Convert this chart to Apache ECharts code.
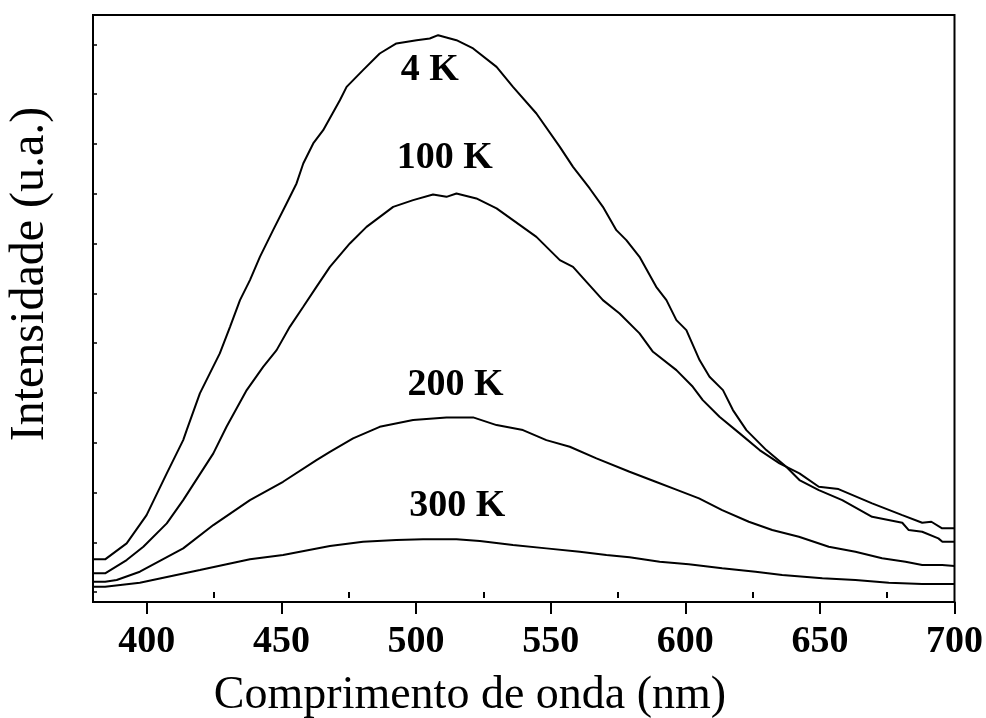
<!DOCTYPE html>
<html>
<head>
<meta charset="utf-8">
<script src="https://cdn.jsdelivr.net/npm/echarts@6/dist/echarts.min.js"></script>
<style>
  html, body { margin: 0; padding: 0; background: #fff; }
  #chart { width: 986px; height: 718px; }
</style>
</head>
<body>
<div id="chart"></div>
<script>
// Photoluminescence spectra at four temperatures: [wavelength (nm), intensity (a.u.)]
const spectrum4K = [
  [380.0, 0.657], [384.5, 0.657], [392.5, 0.978], [399.9, 1.546], [407.4, 2.383],
  [413.5, 3.052], [414.8, 3.253], [419.7, 3.990], [423.4, 4.392], [427.1, 4.793],
  [430.9, 5.327], [434.6, 5.863], [438.3, 6.265], [442.0, 6.733], [446.9, 7.269],
  [451.9, 7.805], [455.6, 8.207], [458.1, 8.608], [461.8, 9.010], [465.5, 9.277],
  [471.7, 9.879], [474.2, 10.146], [480.3, 10.482], [486.5, 10.817], [492.7, 11.018],
  [500.2, 11.084], [505.1, 11.118], [508.2, 11.185], [515.0, 11.084], [521.2, 10.918],
  [529.9, 10.548], [536.0, 10.146], [544.7, 9.612], [553.4, 8.942], [558.3, 8.540],
  [564.5, 8.106], [569.4, 7.737], [574.4, 7.269], [578.1, 7.068], [583.0, 6.733],
  [589.2, 6.130], [593.0, 5.863], [596.7, 5.462], [600.4, 5.261], [605.3, 4.659],
  [609.0, 4.323], [614.0, 4.056], [617.7, 3.655], [622.7, 3.253], [630.1, 2.851],
  [637.5, 2.516], [642.4, 2.249], [649.6, 2.048], [658.3, 1.847], [669.4, 1.512],
  [680.6, 1.392], [683.0, 1.245], [688.0, 1.211], [694.0, 1.078], [695.5, 1.010],
  [700.0, 1.010]
];
const spectrum100K = [
  [380.0, 0.376], [384.5, 0.376], [392.5, 0.643], [398.7, 0.910], [407.4, 1.379],
  [413.5, 1.847], [424.7, 2.785], [429.6, 3.319], [437.1, 4.056], [443.2, 4.524],
  [448.2, 4.859], [453.1, 5.327], [458.1, 5.729], [463.0, 6.130], [468.0, 6.532],
  [475.4, 7.002], [481.6, 7.335], [491.5, 7.737], [498.9, 7.871], [506.3, 7.986],
  [511.3, 7.938], [515.0, 8.006], [522.4, 7.905], [529.9, 7.705], [536.0, 7.470],
  [544.7, 7.134], [553.4, 6.667], [558.3, 6.532], [563.3, 6.231], [569.4, 5.863],
  [575.6, 5.596], [583.0, 5.195], [588.0, 4.825], [596.7, 4.458], [602.8, 4.122],
  [606.5, 3.855], [612.7, 3.520], [620.2, 3.187], [627.6, 2.851], [635.0, 2.584],
  [642.4, 2.383], [649.6, 2.114], [656.9, 2.068], [669.4, 1.781], [680.6, 1.546],
  [688.0, 1.392], [691.4, 1.412], [695.4, 1.279], [700.0, 1.279]
];
const spectrum200K = [
  [380.0, 0.207], [384.5, 0.207], [388.8, 0.241], [397.4, 0.408], [413.5, 0.877],
  [424.7, 1.345], [438.3, 1.847], [450.6, 2.215], [463.0, 2.651], [468.0, 2.817],
  [476.6, 3.086], [486.5, 3.319], [498.9, 3.454], [511.3, 3.508], [521.2, 3.508],
  [529.9, 3.353], [539.7, 3.253], [548.4, 3.052], [557.1, 2.918], [567.0, 2.685],
  [579.3, 2.416], [589.0, 2.215], [596.4, 2.062], [605.1, 1.881], [613.7, 1.647],
  [623.6, 1.412], [632.3, 1.245], [642.2, 1.110], [653.3, 0.910], [663.2, 0.809],
  [673.1, 0.677], [681.8, 0.608], [688.0, 0.542], [695.4, 0.542], [700.0, 0.522]
];
const spectrum300K = [
  [380.0, 0.106], [384.5, 0.106], [397.4, 0.187], [419.7, 0.442], [438.3, 0.657],
  [450.6, 0.743], [468.0, 0.924], [480.3, 1.010], [492.7, 1.044], [502.6, 1.058],
  [515.0, 1.058], [523.7, 1.024], [536.0, 0.944], [548.4, 0.877], [560.8, 0.809],
  [570.7, 0.743], [579.3, 0.697], [590.5, 0.608], [601.3, 0.556], [613.7, 0.476],
  [626.1, 0.408], [636.0, 0.341], [650.9, 0.275], [663.2, 0.241], [675.6, 0.187],
  [688.0, 0.161], [700.0, 0.161]
];

const seriesNames = ['4 K', '100 K', '200 K', '300 K'];
const seriesData = [spectrum4K, spectrum100K, spectrum200K, spectrum300K];

// Where each temperature caption sits, in data coordinates
const captionAnchors = [[505.1, 10.48], [510.7, 8.71], [514.7, 4.16], [515.3, 1.72]];

// Axis ticks
const xMajorTicks = [400, 450, 500, 550, 600, 650, 700];
const xMinorTicks = [425, 475, 525, 575, 625, 675];
const yTicks = [0, 1, 2, 3, 4, 5, 6, 7, 8, 9, 10, 11];

const SERIF = '"Liberation Serif", "Times New Roman", serif';

const chart = echarts.init(document.getElementById('chart'), null, { renderer: 'canvas' });

const series = seriesData.map((data, i) => ({
  name: seriesNames[i],
  type: 'line',
  xAxisIndex: 0,
  yAxisIndex: 0,
  data: data,
  showSymbol: false,
  symbol: 'none',
  silent: true,
  animation: false,
  lineStyle: { color: '#000', width: 2 },
  markPoint: {
    symbol: 'circle',
    symbolSize: 1,
    itemStyle: { color: 'rgba(0,0,0,0)' },
    animation: false,
    data: [{
      coord: captionAnchors[i],
      label: {
        show: true,
        position: 'inside',
        formatter: seriesNames[i],
        color: '#000',
        fontFamily: SERIF,
        fontWeight: 'bold',
        fontSize: 38
      }
    }]
  }
}));

chart.setOption({
  backgroundColor: '#fff',
  animation: false,
  grid: {
    left: 93, right: 31, top: 15, bottom: 116,
    show: true, borderColor: '#000', borderWidth: 2,
    backgroundColor: 'transparent'
  },
  xAxis: [
    {
      type: 'value', min: 380, max: 700,
      axisLine: { show: true, onZero: false, lineStyle: { color: '#000', width: 2 } },
      axisTick: { show: true, inside: false, length: 12, customValues: xMajorTicks,
                  lineStyle: { color: '#000', width: 2 } },
      axisLabel: { show: true, customValues: xMajorTicks, margin: 21, color: '#000',
                   fontFamily: SERIF, fontWeight: 'bold', fontSize: 38 },
      splitLine: { show: false }
    },
    {
      type: 'value', min: 380, max: 700, position: 'bottom', gridIndex: 0,
      axisLine: { show: false },
      axisTick: { show: true, inside: false, length: 6, customValues: xMinorTicks,
                  lineStyle: { color: '#000', width: 2 } },
      axisLabel: { show: false },
      splitLine: { show: false }
    }
  ],
  yAxis: {
    type: 'value', min: -0.2, max: 11.59,
    axisLine: { show: true, onZero: false, lineStyle: { color: '#000', width: 2 } },
    axisTick: { show: true, inside: true, length: 4, customValues: yTicks,
                lineStyle: { color: '#000', width: 1.5 } },
    axisLabel: { show: false },
    splitLine: { show: false }
  },
  graphic: [
    {
      type: 'text', x: 470, y: 696,
      style: { text: 'Comprimento de onda (nm)', fill: '#000', font: '46px ' + SERIF,
               align: 'center', verticalAlign: 'middle' }
    },
    {
      type: 'text', x: 30, y: 274, rotation: Math.PI / 2,
      style: { text: 'Intensidade (u.a.)', fill: '#000', font: '48px ' + SERIF,
               align: 'center', verticalAlign: 'middle' }
    }
  ],
  series: series
});
</script>
</body>
</html>
